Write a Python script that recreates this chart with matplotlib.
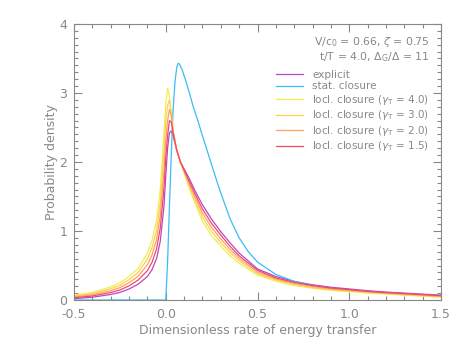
import matplotlib
matplotlib.use('Agg')
import matplotlib.pyplot as plt
from matplotlib.ticker import MultipleLocator

# shared x grid for the local-closure curves and the explicit run
x = [-0.5, -0.4, -0.3, -0.25, -0.2, -0.15, -0.1, -0.075, -0.05, -0.03, -0.01,
     0.0, 0.01, 0.02, 0.03, 0.04, 0.06, 0.08, 0.1, 0.13, 0.16, 0.2, 0.25,
     0.3, 0.35, 0.4, 0.5, 0.6, 0.7, 0.8, 0.9, 1.0, 1.1, 1.2, 1.3, 1.4, 1.5]

explicit = [0.02, 0.04, 0.08, 0.11, 0.16, 0.23, 0.34, 0.44, 0.6, 0.85, 1.35,
            1.8, 2.2, 2.42, 2.45, 2.38, 2.17, 2.0, 1.9, 1.75, 1.58, 1.38, 1.17,
            0.99, 0.83, 0.68, 0.45, 0.34, 0.27, 0.22, 0.185, 0.16, 0.135, 0.115, 0.1, 0.085, 0.07]

locl_40 = [0.07, 0.11, 0.19, 0.25, 0.34, 0.46, 0.68, 0.86, 1.15, 1.6, 2.4,
           2.85, 3.07, 2.95, 2.7, 2.45, 2.17, 1.99, 1.84, 1.6, 1.4, 1.14, 0.93,
           0.78, 0.64, 0.53, 0.36, 0.27, 0.21, 0.17, 0.14, 0.12, 0.1, 0.085, 0.07, 0.055, 0.04]

locl_30 = [0.058, 0.093, 0.163, 0.215, 0.295, 0.40, 0.595, 0.755, 1.01, 1.41, 2.14,
           2.59, 2.82, 2.90, 2.72, 2.45, 2.17, 2.0, 1.855, 1.64, 1.445, 1.20, 0.99,
           0.83, 0.69, 0.57, 0.38, 0.29, 0.225, 0.18, 0.15, 0.13, 0.11, 0.093, 0.078, 0.063, 0.048]

locl_20 = [0.045, 0.075, 0.135, 0.18, 0.25, 0.345, 0.51, 0.65, 0.875, 1.22, 1.87,
           2.32, 2.6, 2.76, 2.68, 2.45, 2.17, 2.0, 1.87, 1.675, 1.49, 1.26, 1.05,
           0.885, 0.735, 0.605, 0.405, 0.305, 0.24, 0.195, 0.16, 0.14, 0.12, 0.10, 0.085, 0.07, 0.055]

locl_15 = [0.033, 0.058, 0.108, 0.145, 0.205, 0.29, 0.425, 0.545, 0.74, 1.04, 1.61,
           2.06, 2.38, 2.6, 2.58, 2.42, 2.17, 2.0, 1.885, 1.71, 1.535, 1.32, 1.11,
           0.94, 0.78, 0.64, 0.43, 0.32, 0.255, 0.21, 0.175, 0.15, 0.125, 0.108, 0.093, 0.078, 0.063]

# statistical closure has its own grid (zero below 0)
x_stat = [-0.5, 0.0, 0.0, 0.01, 0.02, 0.03, 0.04, 0.05, 0.06, 0.067, 0.075, 0.09,
          0.11, 0.13, 0.15, 0.175, 0.2, 0.225, 0.25, 0.275, 0.3, 0.35, 0.4, 0.45,
          0.5, 0.6, 0.7, 0.8, 0.9, 1.0, 1.1, 1.2, 1.3, 1.4, 1.5]
stat = [0.0, 0.0, 0.0, 0.55, 1.35, 2.1, 2.75, 3.15, 3.37, 3.43, 3.42, 3.33,
        3.17, 2.99, 2.8, 2.6, 2.38, 2.17, 1.96, 1.75, 1.55, 1.18, 0.9, 0.7,
        0.55, 0.37, 0.27, 0.21, 0.17, 0.14, 0.115, 0.095, 0.08, 0.065, 0.055]

series = [
    ('explicit', x, explicit, '#b548c8'),
    ('stat. closure', x_stat, stat, '#3cbcf4'),
    (r'locl. closure ($\gamma_\mathrm{T}$ = 4.0)', x, locl_40, '#eef050'),
    (r'locl. closure ($\gamma_\mathrm{T}$ = 3.0)', x, locl_30, '#ffd050'),
    (r'locl. closure ($\gamma_\mathrm{T}$ = 2.0)', x, locl_20, '#ffa060'),
    (r'locl. closure ($\gamma_\mathrm{T}$ = 1.5)', x, locl_15, '#f04868'),
]

grey = '#888888'
plt.rcParams['font.family'] = ['DejaVu Sans']
plt.rcParams['mathtext.fontset'] = 'dejavusans'

fig = plt.figure(figsize=(4.63, 3.48), dpi=100)
ax = fig.add_axes([74 / 463, 1 - 300 / 348, (441 - 74) / 463, (300 - 24) / 348])

for label, xs, ys, col in series:
    ax.plot(xs, ys, color=col, lw=0.9, label=label)

ax.set_xlim(-0.5, 1.5)
ax.set_ylim(0, 4)
ax.xaxis.set_major_locator(MultipleLocator(0.5))
ax.xaxis.set_minor_locator(MultipleLocator(0.1))
ax.yaxis.set_major_locator(MultipleLocator(1))
ax.yaxis.set_minor_locator(MultipleLocator(0.1))
ax.xaxis.set_major_formatter(plt.FuncFormatter(lambda v, p: '%.1f' % v))

ax.tick_params(which='both', direction='in', top=True, right=True,
               colors=grey, labelcolor=grey, labelsize=9, width=0.8)
ax.tick_params(which='major', length=6)
ax.tick_params(which='minor', length=3)
ax.tick_params(axis='x', which='major', pad=6)
ax.tick_params(axis='y', which='major', pad=5)
for sp in ax.spines.values():
    sp.set_color(grey)
    sp.set_linewidth(0.8)

ax.set_xlabel('Dimensionless rate of energy transfer', color=grey, fontsize=9, labelpad=2)
ax.set_ylabel('Probability density', color=grey, fontsize=9, labelpad=1)

fig.text(430 / 463, 1 - 42 / 348, r'V/c$_0$ = 0.66, $\zeta$ = 0.75',
         ha='right', va='center', color=grey, fontsize=7.8)
fig.text(430 / 463, 1 - 57 / 348, r't/T = 4.0, $\Delta_\mathrm{G}/\Delta$ = 11',
         ha='right', va='center', color=grey, fontsize=7.8)

leg = ax.legend(loc='upper left', bbox_to_anchor=(276 / 463, 1 - 70 / 348),
                bbox_transform=fig.transFigure, frameon=False, fontsize=7.5,
                handlelength=2.6, handletextpad=0.9, labelspacing=0.14,
                borderpad=0, borderaxespad=0)
for t in leg.get_texts():
    t.set_color(grey)

fig.savefig('out.png', dpi=100)
